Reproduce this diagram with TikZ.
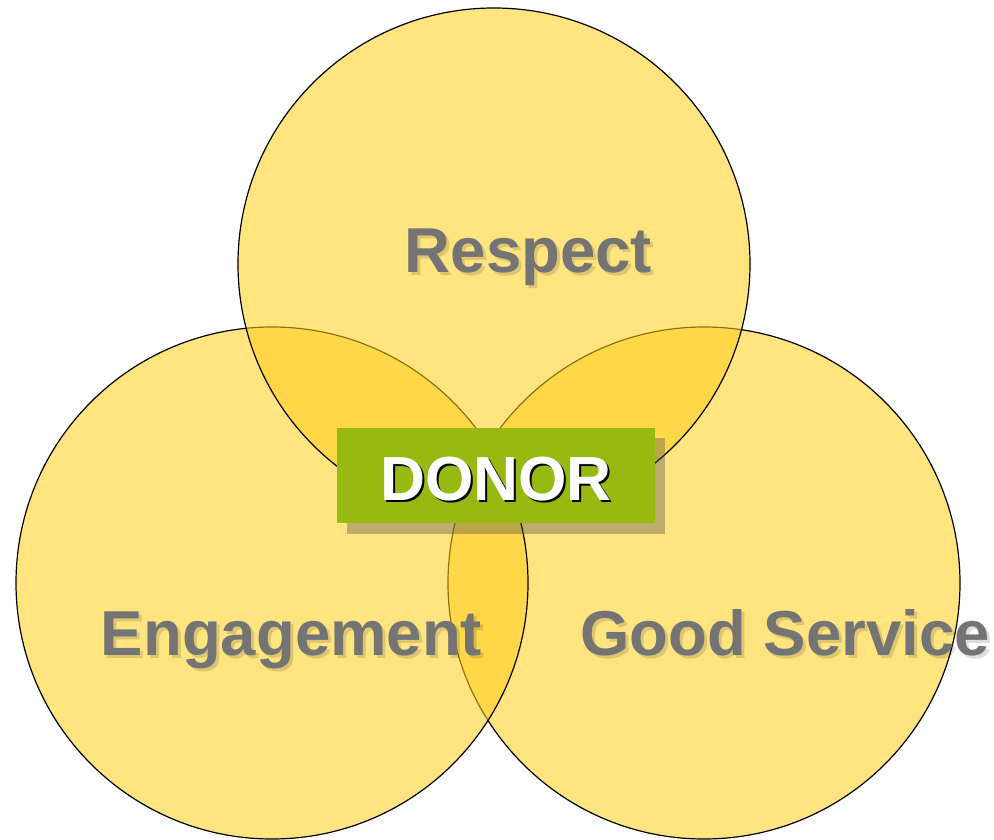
\documentclass[tikz,border=0pt]{standalone}
\usepackage{fontspec}
\setmainfont{Liberation Sans}
\definecolor{ringfill}{RGB}{255,206,29}
\definecolor{donorgreen}{RGB}{150,186,18}
\definecolor{wordgray}{RGB}{116,116,116}
\tikzset{
  ring/.style={draw=black, line width=1.2pt, fill=ringfill, fill opacity=0.56},
  word/.style={font=\fontsize{63.5}{70}\selectfont\bfseries, text=wordgray, anchor=base, inner sep=0pt},
  wordshadow/.style={font=\fontsize{63.5}{70}\selectfont\bfseries, text=black, text opacity=0.13, anchor=base, inner sep=0pt}
}

\begin{document}
\begin{tikzpicture}[x=1pt, y=-1pt]
		%%%%% START %%%%%
		\useasboundingbox (0, 0) rectangle (994, 840);
		
		% the three circles
		\draw[ring] (704, 583) circle (256);
		\draw[ring] (272, 583) circle (256);
		\draw[ring] (494, 264) circle (256);
		
		% circle labels
		\node[wordshadow] (respects) at (531.5, 275) {Respect};
		\node[word] (respect) at (528.5, 272) {Respect};
		
		\node[wordshadow] (engages) at (294.5, 658) {Engagement};
		\node[word] (engage) at (291.5, 655) {Engagement};
		
		\node[wordshadow] (services) at (788, 658) {Good Service};
		\node[word] (service) at (785, 655) {Good Service};
		
		% donor box
		\draw[fill=black!70, fill opacity=0.36, draw=none] (347, 438) rectangle (665, 534);
		\draw[fill=donorgreen, draw=none] (337, 428) rectangle (655, 523);
		\node[font=\fontsize{62.3}{70}\selectfont\bfseries, text=black, anchor=base, inner sep=0pt] (donors) at (498, 502) {DONOR};
		\node[font=\fontsize{62.3}{70}\selectfont\bfseries, text=white, anchor=base, inner sep=0pt] (donor) at (496, 500) {DONOR};
		%%%%% END %%%%%
	\end{tikzpicture}
\end{document}
